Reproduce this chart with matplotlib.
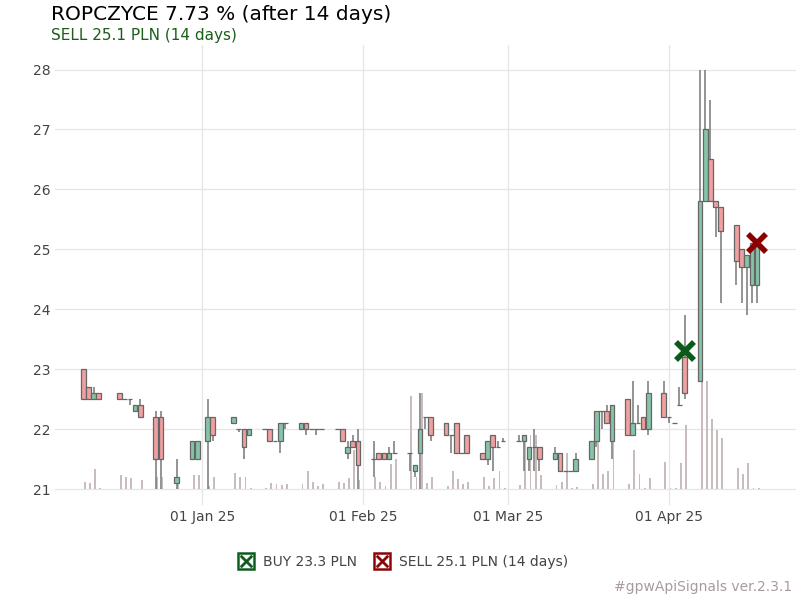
import matplotlib
matplotlib.use("Agg")
import matplotlib.pyplot as plt
import matplotlib.dates as mdates
from matplotlib.lines import Line2D
import numpy as np
import pandas as pd

dates = ["2024-12-09","2024-12-10","2024-12-11","2024-12-12","2024-12-16","2024-12-17","2024-12-18","2024-12-19","2024-12-20",
         "2024-12-23","2024-12-24","2024-12-27","2024-12-30","2024-12-31","2025-01-02","2025-01-03",
         "2025-01-07","2025-01-08","2025-01-09","2025-01-10","2025-01-13","2025-01-14","2025-01-15","2025-01-16","2025-01-17",
         "2025-01-20","2025-01-21","2025-01-22","2025-01-23","2025-01-24","2025-01-27","2025-01-28","2025-01-29","2025-01-30","2025-01-31",
         "2025-02-03","2025-02-04","2025-02-05","2025-02-06","2025-02-07","2025-02-10","2025-02-11","2025-02-12","2025-02-13","2025-02-14",
         "2025-02-17","2025-02-18","2025-02-19","2025-02-20","2025-02-21","2025-02-24","2025-02-25","2025-02-26","2025-02-27","2025-02-28",
         "2025-03-03","2025-03-04","2025-03-05","2025-03-06","2025-03-07","2025-03-10","2025-03-11","2025-03-12","2025-03-13","2025-03-14",
         "2025-03-17","2025-03-18","2025-03-19","2025-03-20","2025-03-21","2025-03-24","2025-03-25","2025-03-26","2025-03-27","2025-03-28",
         "2025-03-31","2025-04-01","2025-04-02","2025-04-03","2025-04-04","2025-04-07","2025-04-08","2025-04-09","2025-04-10","2025-04-11",
         "2025-04-14","2025-04-15","2025-04-16","2025-04-17","2025-04-18"]
opens  = [23.0,22.7,22.5,22.6,22.6,22.5,22.5,22.3,22.4, 22.2,22.2,21.1,21.5,21.5,21.8,22.2,
          22.1,22.0,22.0,21.9,22.0,22.0,21.8,21.8,22.1, 22.0,22.1,22.0,22.0,22.0,22.0,22.0,21.6,21.8,21.8,
          21.5,21.6,21.6,21.5,21.6,21.6,21.3,21.6,22.2,22.2, 22.1,21.9,22.1,21.6,21.9,21.6,21.5,21.9,21.7,21.8,
          21.8,21.8,21.5,21.7,21.7,21.5,21.6,21.3,21.3,21.3, 21.5,21.8,22.3,22.3,21.8,22.5,21.9,22.1,22.2,22.0,
          22.6,22.2,22.1,22.4,23.2,22.8,25.8,26.5,25.8,25.7, 25.4,25.0,24.7,24.4,24.4]
closes = [22.5,22.5,22.6,22.5,22.5,22.5,22.5,22.4,22.2, 21.5,21.5,21.2,21.8,21.8,22.2,21.9,
          22.2,22.0,21.7,22.0,22.0,21.8,21.8,22.1,22.1, 22.1,22.0,22.0,22.0,22.0,22.0,21.8,21.7,21.7,21.4,
          21.5,21.5,21.5,21.6,21.6,21.6,21.4,22.0,22.2,21.9, 21.9,21.9,21.6,21.6,21.6,21.5,21.8,21.7,21.7,21.8,
          21.8,21.9,21.7,21.7,21.5,21.6,21.3,21.3,21.3,21.5, 21.8,22.3,22.3,22.1,22.4,21.9,22.1,22.1,22.0,22.6,
          22.2,22.2,22.1,22.4,22.6,25.8,27.0,25.8,25.7,25.3, 24.8,24.7,24.9,25.1,25.1]
highs  = [23.0,22.7,22.7,22.6,22.6,22.5,22.5,22.4,22.5, 22.3,22.3,21.5,21.8,21.8,22.5,22.2,
          22.2,22.0,22.0,22.0,22.0,22.0,21.8,22.1,22.1, 22.1,22.1,22.0,22.0,22.0,22.0,22.0,21.8,21.9,22.0,
          21.8,21.6,21.6,21.7,21.8,21.6,21.4,22.6,22.2,22.2, 22.1,21.9,22.1,21.6,21.9,21.6,21.8,21.9,21.8,21.85,
          21.9,21.9,21.7,22.0,21.7,21.7,21.6,21.3,21.3,21.6, 21.8,22.3,22.3,22.4,22.4,22.5,22.8,22.4,22.2,22.8,
          22.8,22.2,22.1,22.7,23.9,28.0,28.0,27.5,25.8,25.7, 25.4,25.0,24.9,25.1,25.1]
lows   = [22.5,22.5,22.5,22.5,22.5,22.5,22.4,22.3,22.2, 21.0,21.0,21.0,21.5,21.5,21.0,21.8,
          22.1,21.95,21.5,21.9,22.0,21.8,21.8,21.6,22.0, 22.0,21.9,22.0,21.9,22.0,22.0,21.8,21.5,21.7,21.0,
          21.2,21.5,21.5,21.5,21.6,21.3,21.2,21.0,22.0,21.8, 21.9,21.6,21.6,21.6,21.6,21.5,21.4,21.3,21.7,21.8,
          21.8,21.3,21.3,21.3,21.3,21.5,21.3,21.3,21.3,21.3, 21.5,21.7,22.0,22.1,21.5,21.9,21.9,22.1,22.0,21.9,
          22.2,22.1,22.1,22.4,22.5,22.8,25.8,25.8,25.2,24.1, 24.4,24.1,23.9,24.1,24.1]
volumes = [0.12,0.1,0.34,0.02,0.23,0.2,0.18,0.0,0.15, 0.2,0.2,0.12,0.23,0.23,0.05,0.2,
           0.27,0.2,0.2,0.02,0.01,0.1,0.09,0.07,0.09, 0.09,0.3,0.12,0.05,0.09,0.12,0.1,0.18,0.65,0.15,
           0.2,0.12,0.05,0.42,0.5,1.55,0.2,1.6,0.1,0.2, 0.05,0.3,0.17,0.08,0.12,0.2,0.05,0.18,0.3,0.02,
           0.07,0.9,0.9,0.9,0.23,0.06,0.12,0.6,0.02,0.03, 0.09,0.9,0.25,0.3,0.9,0.09,0.65,0.25,0.01,0.18,
           0.45,0.01,0.02,0.43,1.07,1.8,1.8,1.17,0.98,0.85, 0.35,0.25,0.43,0.02,0.02]

buy_date, buy_price = "2025-04-04", 23.3
sell_date, sell_price = "2025-04-18", 25.1

x = mdates.date2num(pd.to_datetime(dates))
o, c, h, l, v = map(np.array, (opens, closes, highs, lows, volumes))

fig = plt.figure(figsize=(8, 6), dpi=100)
ax = fig.add_axes([0.069, 0.158, 0.926, 0.767])
base = 21.0
ax.bar(x + 0.3, v, bottom=base, width=0.35, color="#c9bcbc", zorder=1)
up = c >= o
ax.vlines(x, l, h, color="#777777", linewidth=1.1, zorder=2)
body_b = np.minimum(o, c)
body_h = np.maximum(np.abs(c - o), 0.005)
cols = np.where(up, "#86c4a8", "#f0a0a0")
ax.bar(x, body_h, bottom=body_b, width=0.9, color=cols, edgecolor="#666666", linewidth=0.9, zorder=3)

bx = mdates.date2num(pd.Timestamp(buy_date)); sx = mdates.date2num(pd.Timestamp(sell_date))
ax.plot(bx, buy_price, marker="x", color="#0a5a1a", markersize=13, mew=4, zorder=5)
ax.plot(sx, sell_price, marker="x", color="#8b0000", markersize=13, mew=4, zorder=5)

ax.set_xlim(mdates.date2num(pd.Timestamp("2024-12-03")) + 0.6, mdates.date2num(pd.Timestamp("2025-04-25")) + 0.5)
ax.set_ylim(20.73, 28.41)
ax.set_yticks([21, 22, 23, 24, 25, 26, 27, 28])
ax.xaxis.set_major_locator(mdates.MonthLocator())
ax.xaxis.set_major_formatter(mdates.DateFormatter("%d %b %y"))
ax.grid(True, color="#e6e6e6", linewidth=0.9, zorder=0)
ax.set_axisbelow(True)
for s in ax.spines.values():
    s.set_visible(False)
ax.tick_params(length=0, labelsize=10, colors="#444444")

fig.text(0.064, 0.967, "ROPCZYCE 7.73 % (after 14 days)", fontsize=14.5, color="black")
fig.text(0.064, 0.933, "SELL 25.1 PLN (14 days)", fontsize=11, color="#1a5e1a")
handles = [Line2D([], [], marker=r"$\boxtimes$", color="#0a5a1a", ls="", markersize=13, mew=0.3),
           Line2D([], [], marker=r"$\boxtimes$", color="#8b0000", ls="", markersize=13, mew=0.3)]
fig.legend(handles, ["BUY 23.3 PLN", "SELL 25.1 PLN (14 days)"], loc="center", bbox_to_anchor=(0.5, 0.064),
           ncol=2, frameon=False, fontsize=10, handletextpad=0.2, columnspacing=0.8, labelcolor="#444444")
fig.text(0.99, 0.01, "#gpwApiSignals ver.2.3.1", ha="right", va="bottom", fontsize=10, color="#aa9aa0")
fig.savefig("out.png", dpi=100)
